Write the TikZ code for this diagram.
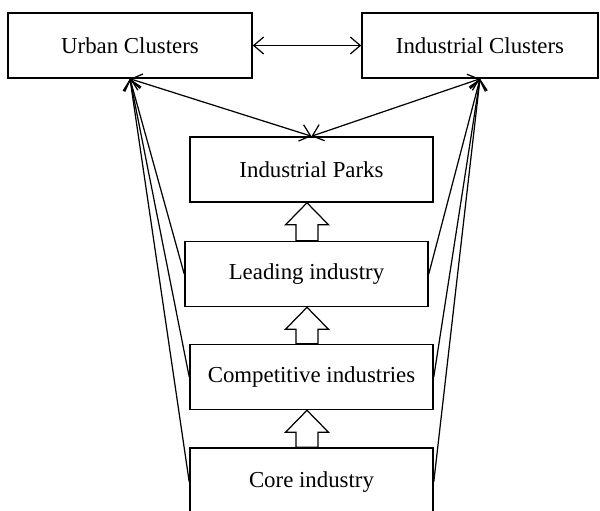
\documentclass[tikz,border=0pt]{standalone}
\usepackage{fontspec}
\setmainfont{Liberation Serif}
\usetikzlibrary{arrows.meta,calc}

\begin{document}
\begin{tikzpicture}[x=.02cm, y=-.02cm, line width=.7pt,
	box/.style={draw, line width=.9pt, fill=white, minimum width=4.86cm, minimum height=1.3cm, inner sep=0pt, font=\fontsize{13}{15}\selectfont},
	>={Straight Barb[length=2mm,width=3.4mm]}]
			\clip (0,0) rectangle (600,511);
			
			\node[box, minimum width=4.88cm] (urban) at (130,45.5) {Urban Clusters};
			\node[box, minimum width=4.72cm] (indcl) at (480,45.5) {Industrial Clusters};
			\node[box] (parks) at (311.5,169.5) {Industrial Parks};
			\node[box] (leading) at (306.5,274) {Leading industry};
			\node[box] (compet) at (311.5,377) {Competitive industries};
			\node[box, minimum height=1.36cm] (core) at (311.5,482) {Core industry};
			
			\draw [<->] (urban) -- (indcl);
			\draw [<->] (urban.south) -- (parks.north);
			\draw [<->] (indcl.south) -- (parks.north);
			
			\foreach \b in {leading, compet, core} {
				\draw [->] (\b.west) -- (urban.south);
				\draw [->] (\b.east) -- (indcl.south);
			}
			
			% hollow arrows up the stack
			\foreach \a/\b in {leading/parks, compet/leading, core/compet} {
				\coordinate (t) at (307,0 |- \b.south);
				\coordinate (s) at (307,0 |- \a.north);
				\draw [fill=white] (t) -- ($(t)+(21.5,22)$) -- ($(t)+(11,22)$) -- ($(s)+(11,0)$)
					-- ($(s)+(-11,0)$) -- ($(t)+(-11,22)$) -- ($(t)+(-21.5,22)$) -- cycle;
			}
\end{tikzpicture}
\end{document}
